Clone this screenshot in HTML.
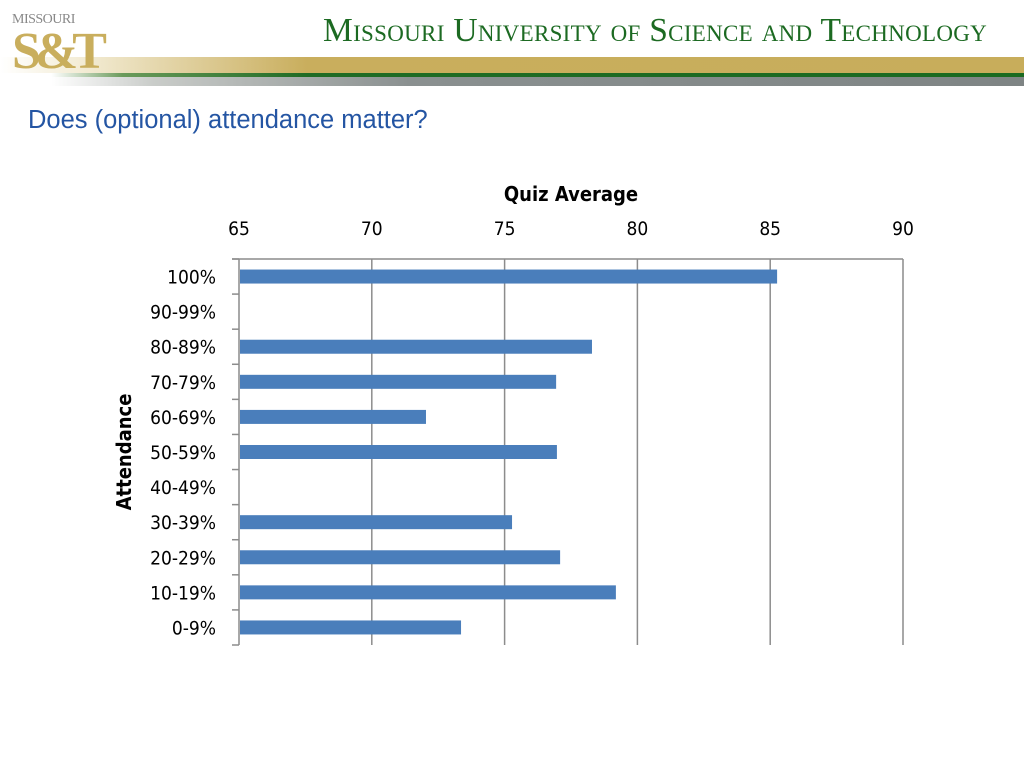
<!DOCTYPE html>
<html><head><meta charset="utf-8"><style>
body{margin:0;width:1024px;height:768px;background:#fff;overflow:hidden;position:relative;font-family:"Liberation Sans",sans-serif}
.abs{position:absolute}
</style></head><body>
<div class="abs" style="left:0;top:0;width:1024px;height:90px">
  <div class="abs" style="left:0;top:57px;width:1024px;height:17px;background:linear-gradient(90deg,#fff 0%,#f3ecd5 8%,#c9ae5d 30%,#c8ad5b 100%)"></div>
  <div class="abs" style="left:0;top:73px;width:1024px;height:4px;background:linear-gradient(90deg,#fff 5%,#6a9a5a 12%,#1f6b24 30%,#1a6a20 100%)"></div>
  <div class="abs" style="left:0;top:77px;width:1024px;height:9px;background:linear-gradient(90deg,#fff 5%,#c9ccc9 15%,#8a9090 40%,#7e8484 100%)"></div>
  <div class="abs" style="left:12px;top:12px;font-family:'Liberation Serif',serif;font-size:14px;color:#888;letter-spacing:-0.5px">MISSOURI</div>
  <div class="abs" style="left:12px;top:22px;font-family:'Liberation Serif',serif;font-size:52px;font-weight:bold;color:#c9ae5d;letter-spacing:-6px">S&amp;T</div>
  <div class="abs" style="left:323px;top:12px;font-family:'Liberation Serif',serif;font-size:33.5px;color:#1c6a22;font-variant:small-caps;letter-spacing:0.3px;white-space:nowrap">Missouri University of Science and Technology</div>
</div>
<div class="abs" style="left:28px;top:106px;font-size:25.5px;color:#2455a3">Does (optional) attendance matter?</div>
<svg class="abs" style="left:0;top:0" width="1024" height="768">
<g id="chart"></g>
</svg>
<script>
const categories=["100%","90-99%","80-89%","70-79%","60-69%","50-59%","40-49%","30-39%","20-29%","10-19%","0-9%"];
const values=[85.26,null,78.29,76.94,72.04,76.97,null,75.28,77.09,79.19,73.36];
const ticks=[65,70,75,80,85,90];
const NS="http://www.w3.org/2000/svg";
const g=document.getElementById('chart');
const x0=239,x1=903,y0=259,y1=645,vmin=65,vmax=90;
const xs=v=>x0+(v-vmin)/(vmax-vmin)*(x1-x0);
const band=(y1-y0)/categories.length;
const yc=i=>y0+band*(i+0.5);
function mk(t,a,txt){const e=document.createElementNS(NS,t);for(const k in a)e.setAttribute(k,a[k]);if(txt!=null)e.textContent=txt;g.appendChild(e);return e;}
ticks.forEach(t=>{
  if(t>vmin){const l=mk('line',{x1:xs(t),x2:xs(t),y1:y0,y2:y1,stroke:'#8c8c8c','stroke-width':1.5});
  
  }
  const tx=mk('text',{x:xs(t),y:235,'text-anchor':'middle','font-size':19,'font-family':'DejaVu Sans Condensed, Liberation Sans, sans-serif',fill:'#000'},t);
  
  
});
const topLine=mk('line',{x1:232,x2:x1,y1:y0,y2:y0,stroke:'#8c8c8c','stroke-width':1.5});


const ax=mk('line',{x1:x0,x2:x0,y1:y0,y2:y1,stroke:'#8c8c8c','stroke-width':1.5});


for(let i=0;i<=categories.length;i++){
  const tk=mk('line',{x1:232,x2:x0,y1:y0+band*i,y2:y0+band*i,stroke:'#8c8c8c','stroke-width':1.5});
  
  
}
categories.forEach((c,i)=>{
  const t=mk('text',{x:216,y:yc(i)+7,'text-anchor':'end','font-size':19,'font-family':'DejaVu Sans Condensed, Liberation Sans, sans-serif',fill:'#000'},c);
  
  
  if(values[i]!=null){
    const r=mk('rect',{x:x0+1,y:yc(i)-7,width:xs(values[i])-x0-1,height:14,fill:'#4a7ebb'});
    
    
  }
});
const tt=mk('text',{x:571,y:201,'text-anchor':'middle','font-size':20,'font-weight':'bold','font-family':'DejaVu Sans Condensed, Liberation Sans, sans-serif'},'Quiz Average');


const yt=mk('text',{x:0,y:0,'text-anchor':'middle','font-size':20,'font-weight':'bold','font-family':'DejaVu Sans Condensed, Liberation Sans, sans-serif',transform:'translate(131,452) rotate(-90)'},'Attendance');


</script>
</body></html>
